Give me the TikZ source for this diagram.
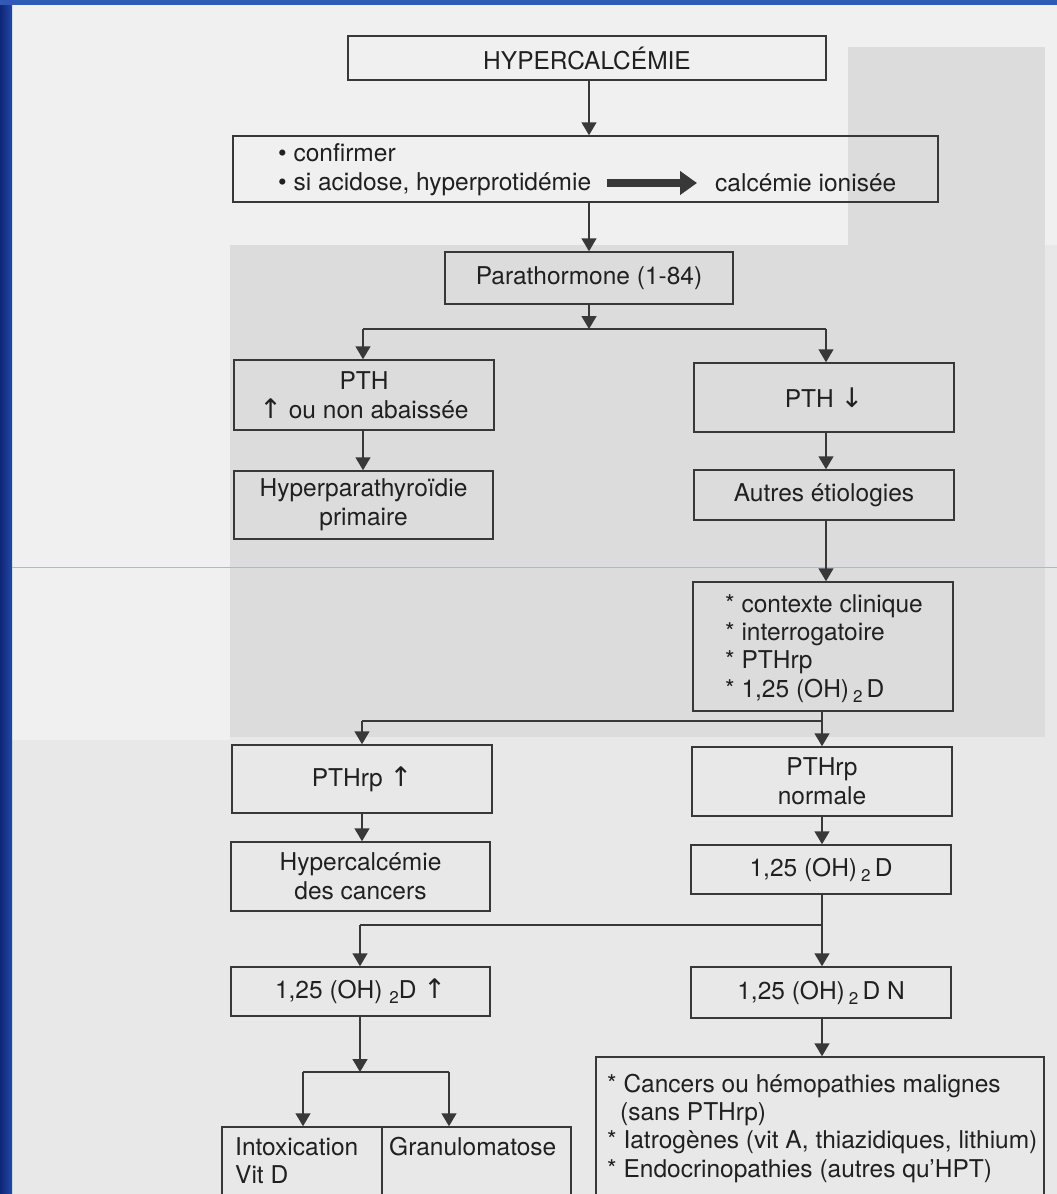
\documentclass[tikz,border=0pt]{standalone}
\usepackage{fontspec}
\setmainfont{TeX Gyre Heros}
\newfontfamily\arrfont{DejaVu Sans}
\usetikzlibrary{arrows.meta,calc}
\definecolor{paper}{HTML}{E8E8E8}
\definecolor{paperlight}{HTML}{F0F0F0}
\definecolor{shadegray}{HTML}{DCDCDC}
\definecolor{navy}{HTML}{0E2677}
\definecolor{navylight}{HTML}{2447A6}
\definecolor{bluetop}{HTML}{3359B6}
\definecolor{thinblue}{HTML}{A9B9D9}
\definecolor{linec}{HTML}{383838}
\definecolor{textc}{HTML}{202020}
\newcommand{\upa}{{\arrfont\fontsize{27}{27}\selectfont ↑}}
\newcommand{\dna}{{\arrfont\fontsize{27}{27}\selectfont ↓}}
\newcommand{\twosub}{\raisebox{-5pt}{\fontsize{17}{17}\selectfont 2}}
\begin{document}
\begin{tikzpicture}[x=1pt,y=-1pt,
  bx/.style={draw=linec, line width=1.5pt, inner sep=0pt, text=textc,
             font=\fontsize{24.5}{29}\selectfont, align=center},
  txt/.style={text=textc, font=\fontsize{24.5}{29}\selectfont, inner sep=0pt},
  ln/.style={draw=linec, line width=1.5pt},
  arr/.style={draw=linec, line width=1.5pt, -{Triangle[width=15pt,length=13pt]}},
  bigarr/.style={draw=linec, line width=8pt, -{Triangle[width=23pt,length=17pt]}}]
\useasboundingbox (0,0) rectangle (1057,1194);
\clip (0,0) rectangle (1057,1194);
% background
\fill[paper] (0,0) rectangle (1057,1194);
\fill[paperlight] (12,5) rectangle (1057,245);
\fill[paperlight] (12,245) rectangle (230,740);
\fill[shadegray] (230,245) rectangle (848,737);
\fill[shadegray] (848,47) rectangle (1045,737);
\shade[left color=navy, right color=navylight] (0,0) rectangle (12,1194);
\fill[bluetop] (0,0) rectangle (1057,5);
\draw[thinblue, line width=1pt] (12,567) -- (1057,567);

% boxes
\node[bx, minimum width=478, minimum height=44] (hyper) at (587,58) {HYPERCALCÉMIE};
\node[bx, minimum width=705, minimum height=66] (confirm) at (585.5,169) {};
\node[txt, anchor=base west] (c1) at (278,161) {• confirmer};
\node[txt, anchor=base west] (c2) at (278,190) {• si acidose, hyperprotidémie};
\node[txt, anchor=base west] (cal) at (715,191) {calcémie ionisée};
\coordinate (ta) at (607,183);
\coordinate (tb) at (697,183);
\draw[bigarr] (ta) -- (tb);

\node[bx, minimum width=288, minimum height=52] (parat) at (589,278) {Parathormone (1-84)};
\node[bx, minimum width=260, minimum height=70] (pthup) at (364,395) {PTH\\\upa\ ou non abaissée};
\node[bx, minimum width=260, minimum height=69] (pthdown) at (824,397.5) {PTH \dna};
\node[bx, minimum width=259, minimum height=68] (hpp) at (363.5,505) {Hyperparathyroïdie\\primaire};
\node[bx, minimum width=260, minimum height=50] (autres) at (824,495) {Autres étiologies};
\node[bx, minimum width=260, minimum height=129] (ctx) at (823,646.5) {};
\node[txt, anchor=base west] (k1) at (725,612) {*\ contexte clinique};
\node[txt, anchor=base west] (k2) at (725,640) {*\ interrogatoire};
\node[txt, anchor=base west] (k3) at (725,668) {*\ PTHrp};
\node[txt, anchor=base west] (k4) at (725,697) {*\ 1,25 (OH)\,\twosub\,D};

\node[bx, minimum width=260, minimum height=68] (pthrpup) at (362,779) {PTHrp \upa};
\node[bx, minimum width=260, minimum height=69] (pthrpn) at (822,781.5) {PTHrp\\normale};
\node[bx, minimum width=259, minimum height=69] (hcc) at (360.5,876.5) {Hypercalcémie\\des cancers};
\node[bx, minimum width=260, minimum height=49] (d125) at (821,869.5) {1,25 (OH)\,\twosub\,D};
\node[bx, minimum width=259, minimum height=49] (d125up) at (360.5,991.5) {1,25 (OH) \twosub D \upa};
\node[bx, minimum width=260, minimum height=51] (d125n) at (821,992.5) {1,25 (OH)\,\twosub\,D N};

\node[bx, minimum width=160, minimum height=96] (intA) at (302,1175) {};
\node[bx, minimum width=189, minimum height=96] (intB) at (476.5,1175) {};
\node[txt, anchor=base west] (i1) at (235,1155) {Intoxication};
\node[txt, anchor=base west] (i2) at (235,1183) {Vit D};
\node[txt, anchor=base west] (g1) at (389,1155) {Granulomatose};

\node[bx, minimum width=448, minimum height=170] (big) at (820,1142) {};
\node[txt, anchor=base west] (b1) at (607,1092) {*\ Cancers ou hémopathies malignes};
\node[txt, anchor=base west] (b2) at (620,1120) {(sans PTHrp)};
\node[txt, anchor=base west] (b3) at (607,1148) {*\ Iatrogènes (vit A, thiazidiques, lithium)};
\node[txt, anchor=base west] (b4) at (607,1177) {*\ Endocrinopathies (autres qu’HPT)};

% connectors
\draw[arr] (hyper.south -| 589,0) -- (589,0 |- confirm.north);
\draw[arr] (confirm.south -| 589,0) -- (589,0 |- parat.north);
\coordinate (j1) at (589,329);
\coordinate (j1l) at (363,329);
\coordinate (j1r) at (826,329);
\draw[arr] (parat.south) -- (j1);
\draw[ln] (j1l) -- (j1r);
\draw[arr] (j1l) -- (j1l |- pthup.north);
\draw[arr] (j1r) -- (j1r |- pthdown.north);
\draw[arr] (pthup.south -| j1l) -- (j1l |- hpp.north);
\draw[arr] (pthdown.south -| j1r) -- (j1r |- autres.north);
\draw[arr] (autres.south -| j1r) -- (j1r |- ctx.north);

\coordinate (j2) at (822,721);
\coordinate (j2l) at (362,721);
\draw[arr] (ctx.south -| j2) -- (j2 |- pthrpn.north);
\draw[ln] (j2) -- (j2l);
\draw[arr] (j2l) -- (j2l |- pthrpup.north);
\draw[arr] (pthrpup.south -| j2l) -- (j2l |- hcc.north);
\draw[arr] (pthrpn.south -| j2) -- (j2 |- d125.north);

\coordinate (j3) at (822,925);
\coordinate (j3l) at (360,925);
\draw[arr] (d125.south -| j3) -- (j3 |- d125n.north);
\draw[ln] (j3) -- (j3l);
\draw[arr] (j3l) -- (j3l |- d125up.north);
\draw[arr] (d125n.south -| j3) -- (j3 |- big.north);

\coordinate (j4) at (360,1072);
\coordinate (j4l) at (303,1072);
\coordinate (j4r) at (449,1072);
\draw[arr] (d125up.south -| j4) -- (j4);
\draw[ln] (j4l) -- (j4r);
\draw[arr] (j4l) -- (j4l |- intA.north);
\draw[arr] (j4r) -- (j4r |- intB.north);
\end{tikzpicture}
\end{document}
